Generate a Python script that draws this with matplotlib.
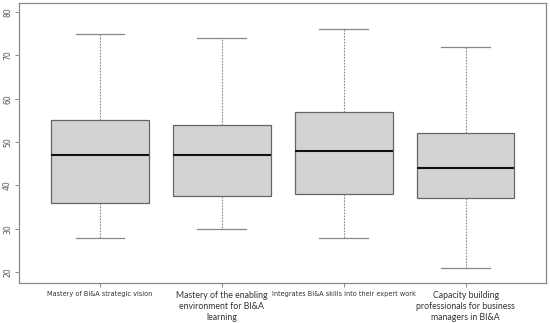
import matplotlib
matplotlib.use("Agg")
import matplotlib.pyplot as plt

categories = [
    "Mastery of BI&A strategic vision",
    "Mastery of the enabling\nenvironment for BI&A\nlearning",
    "Integrates BI&A skills into their expert work",
    "Capacity building\nprofessionals for business\nmanagers in BI&A",
]
whisker_low = [28, 30, 28, 21]
q1 = [36, 37.5, 38, 37]
median = [47, 47, 48, 44]
q3 = [55, 54, 57, 52]
whisker_high = [75, 74, 76, 72]
yticks = [20, 30, 40, 50, 60, 70, 80]

fig = plt.figure(figsize=(5.5, 3.23), dpi=100)
ax = fig.add_axes([0.0345, 0.1238, 0.9585, 0.8669])

stats = []
for i in range(len(categories)):
    stats.append(dict(whislo=whisker_low[i], q1=q1[i], med=median[i],
                      q3=q3[i], whishi=whisker_high[i], fliers=[]))

ax.bxp(stats, positions=range(1, 5), widths=0.8, patch_artist=True,
       showfliers=False,
       boxprops=dict(facecolor="#d3d3d3", edgecolor="#666666", linewidth=0.9),
       medianprops=dict(color="#111111", linewidth=1.5),
       whiskerprops=dict(color="#888888", linewidth=0.8, linestyle=(0, (1.5, 1.2))),
       capprops=dict(color="#888888", linewidth=0.9),
       capwidths=0.4)

ax.set_xlim(0.336, 4.66)
ax.set_ylim(17.5, 82.1)
ax.set_yticks(yticks)
ax.set_yticklabels([str(v) for v in yticks], rotation=90, va="center",
                   fontsize=5.5, color="#555555")
ax.tick_params(axis="y", length=3, width=0.6, color="#777777", pad=2)
ax.set_xticks(range(1, 5))
ax.set_xticklabels(categories)
ax.tick_params(axis="x", length=3, width=0.6, color="#777777", pad=3)
for i, lab in enumerate(ax.get_xticklabels()):
    if i in (0, 2):
        lab.set_fontsize(4.7)
        lab.set_fontfamily("DejaVu Sans")
        lab.set_color("#333333")
    else:
        lab.set_fontsize(6.3)
        lab.set_fontfamily("Lato")
        lab.set_color("#333333")
        lab.set_linespacing(1.25)
    lab.set_ha("center")
    lab.set_va("top")

for s in ax.spines.values():
    s.set_color("#888888")
    s.set_linewidth(0.9)

fig.savefig("out.png", dpi=100)
